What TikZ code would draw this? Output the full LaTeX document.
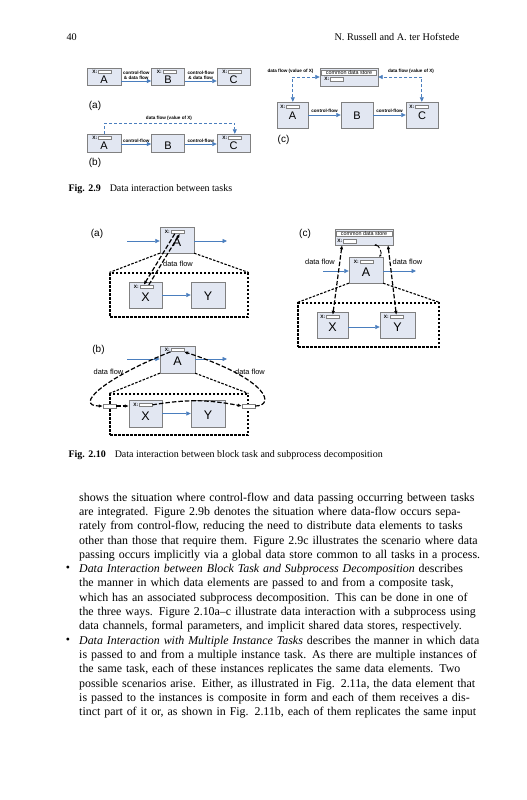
\documentclass[tikz,border=0pt]{standalone}
\usepackage{fontspec}
\setmainfont{Liberation Serif}
\newfontfamily\diagfont{Liberation Sans}
\usepackage{tikz}
\usetikzlibrary{calc,arrows.meta}

\definecolor{boxfill}{RGB}{226,231,242}
\definecolor{boxline}{RGB}{128,128,128}
\definecolor{flowblue}{RGB}{74,126,190}

\tikzset{
  tipb/.tip={Triangle[length=4.5pt,width=4pt]},
  tipc/.tip={Latex[length=4pt,width=3.5pt]},
  tips/.tip={Latex[length=2.5pt,width=2.5pt]},
  task/.style={draw=boxline,fill=boxfill,inner sep=0pt,text height=#1,text depth=0pt,
    font=\diagfont\fontsize{11}{11}\selectfont},
  task/.default=8pt,
  bigtask/.style={task=#1,font=\diagfont\fontsize{12.5}{12.5}\selectfont},
  bigtask/.default=9pt,
  slot/.style={draw=boxline,fill=white,inner sep=0pt,minimum width=13pt,minimum height=3.5pt,
    label={[xlab]left:X:}},
  xlab/.style={font=\diagfont\bfseries\fontsize{4.8}{5}\selectfont,inner sep=0.7pt},
  port/.style={draw=boxline,fill=white,inner sep=0pt,minimum width=13pt,minimum height=3.5pt},
  head/.style={draw=boxline,fill=white,inner sep=0pt,minimum height=5pt,
    font=\diagfont\fontsize{5.4}{5.4}\selectfont},
  flow/.style={flowblue,line width=0.7pt,-{tipb}},
  dflow/.style={flowblue,line width=0.7pt,dash pattern=on 3pt off 2pt},
  lbl/.style={text=black,font=\diagfont\bfseries\fontsize{4.6}{5.6}\selectfont,inner sep=0.5pt},
  dlbl/.style={font=\diagfont\fontsize{7.4}{8}\selectfont,inner sep=0pt},
  tag/.style={font=\diagfont\fontsize{10}{10}\selectfont,inner sep=0pt},
  frame/.style={draw=black,line width=1.1pt,dash pattern=on 2.5pt off 1.5pt},
  chan/.style={black,line width=1.2pt,dash pattern=on 4.5pt off 2pt}
}

\begin{document}
\begin{tikzpicture}[x=1pt,y=-1pt]
\fill[white] (0,0) rectangle (527,800);
\useasboundingbox (0,0) rectangle (527,800);

\node[anchor=west,font=\fontsize{10.2}{12}\selectfont] (pagenum) at (63,37) {40};
\node[anchor=east,font=\fontsize{10.2}{12}\selectfont] (runhead) at (463,37) {N. Russell and A. ter Hofstede};

\node[task=14pt,minimum width=34pt,minimum height=17pt] (A1) at (104,76.5) {A};
\node[task=14pt,minimum width=33pt,minimum height=17pt] (B1) at (168,76.5) {B};
\node[task=14pt,minimum width=33pt,minimum height=17pt] (C1) at (233.5,76.5) {C};
\node[slot] (A1x) at ([shift={(18pt,-4pt)}]A1.north west) {};
\node[slot] (B1x) at ([shift={(18pt,-4pt)}]B1.north west) {};
\node[slot] (C1x) at ([shift={(18pt,-4pt)}]C1.north west) {};
\draw[flow] ([yshift=-4.5pt]A1.east) -- node[lbl,above=0.5pt,align=center]{control-flow\\\& data flow} ([yshift=-4.5pt]B1.west);
\draw[flow] ([yshift=-4.5pt]B1.east) -- node[lbl,above=0.5pt,align=center]{control-flow\\\& data flow} ([yshift=-4.5pt]C1.west);
\node[tag] (taga1) at (95,106) {(a)};

\node[task=12pt,minimum width=34pt,minimum height=18pt] (A2) at (104,143) {A};
\node[task=12pt,minimum width=33pt,minimum height=18pt] (B2) at (168,143) {B};
\node[task=12pt,minimum width=33pt,minimum height=18pt] (C2) at (233.5,143) {C};
\node[slot] (A2x) at ([shift={(18pt,-4pt)}]A2.north west) {};
\node[slot] (C2x) at ([shift={(18pt,-4pt)}]C2.north west) {};
\coordinate (top2) at (0,123);
\draw[dflow,-{tipb}] (A2x |- A2.north) -- (A2x |- top2) -| (C2x |- C2.north);
\node[lbl] (df2) at (169,118) {data flow (value of X)};
\draw[flow] ([yshift=-1pt]A2.east) -- node[lbl,above=0.5pt]{control-flow} ([yshift=-1pt]B2.west);
\draw[flow] ([yshift=-1pt]B2.east) -- node[lbl,above=0.5pt]{control-flow} ([yshift=-1pt]C2.west);
\node[tag] (tagb1) at (95,163) {(b)};

\node[task,minimum width=58pt,minimum height=18pt] (S3) at (349,77) {};
\node[head,minimum width=55pt] (S3h) at ([yshift=-4.5pt]S3.north) {common data store};
\node[slot] (S3x) at ([shift={(17pt,7pt)}]S3.south west) {};
\node[task,minimum width=31pt,minimum height=26pt] (A3) at (292.5,115) {A};
\node[task,minimum width=32pt,minimum height=26pt] (B3) at (357,115) {B};
\node[task,minimum width=32pt,minimum height=26pt] (C3) at (422,115) {C};
\node[slot] (A3x) at ([shift={(16pt,-5pt)}]A3.north west) {};
\node[slot] (C3x) at ([shift={(16pt,-5pt)}]C3.north west) {};
\draw[dflow,{tipb}-{tipb}] (A3x |- A3.north) |- (S3.west);
\draw[dflow,{tipb}-{tipb}] (C3x |- C3.north) |- (S3.east);
\node[lbl] (df3l) at (290.5,71) {data flow (value of X)};
\node[lbl] (df3r) at (411,71) {data flow (value of X)};
\draw[flow] (A3) -- node[lbl,above=2pt]{control-flow} (B3);
\draw[flow] (B3) -- node[lbl,above=2pt]{control-flow} (C3);
\node[tag] (tagc1) at (283.5,140) {(c)};

\node[anchor=west,font=\fontsize{10}{12}\selectfont] (cap9) at (65,189) {\textbf{Fig. 2.9}\hspace{0.9em}Data interaction between tasks};

\node[tag] (taga2) at (97,234) {(a)};
\node[frame,minimum width=138pt,minimum height=44pt] (sub4) at (179,295) {};
\node[bigtask=13pt,minimum width=34pt,minimum height=26pt] (A4) at (177,240) {A};
\node[bigtask=13pt,minimum width=33pt,minimum height=26pt] (X4) at (145.5,295) {X};
\node[bigtask=11pt,minimum width=34pt,minimum height=26pt] (Y4) at (208,295) {Y};
\node[slot] (A4x) at ([shift={(17.5pt,-5pt)}]A4.north west) {};
\node[slot] (X4x) at ([shift={(17.5pt,-5pt)}]X4.north west) {};
\draw[frame] (A4.south west) -- (sub4.north west);
\draw[frame] (A4.south east) -- (sub4.north east);
\coordinate (in4) at (127,241);
\coordinate (out4) at (227,241);
\draw[flow] (in4) -- (in4 -| A4.west);
\draw[flow] (A4.east |- out4) -- (out4);
\draw[flow] (X4) -- (Y4);
\draw[chan,-{tipc}] ([xshift=-2.5pt]A4x.south) -- ([xshift=-2.5pt]X4x.north);
\draw[chan,-{tipc}] ([xshift=2.5pt]X4x.north) -- ([xshift=2.5pt]A4x.south);
\node[dlbl] (df4) at (178,264) {data flow};

\node[tag] (tagb2) at (98.5,350) {(b)};
\node[frame,minimum width=138pt,minimum height=41pt] (sub6) at (179,414.5) {};
\node[bigtask=11pt,minimum width=35pt,minimum height=27pt] (A6) at (177.5,359.5) {A};
\node[bigtask=13pt,minimum width=33pt,minimum height=27pt] (X6) at (145.5,413.5) {X};
\node[bigtask=11pt,minimum width=34pt,minimum height=27pt] (Y6) at (208,413.5) {Y};
\node[slot] (A6x) at ([shift={(17.5pt,-4pt)}]A6.north west) {};
\node[slot] (X6x) at ([shift={(17pt,-5pt)}]X6.north west) {};
\node[port] (Lp) at (109.5,406) {};
\node[port] (Rp) at (248.5,406) {};
\draw[frame] (A6.south west) -- (sub6.north west);
\draw[frame] (A6.south east) -- (sub6.north east);
\coordinate (in6) at (127,359);
\coordinate (out6) at (227,359);
\draw[flow] (in6) -- (in6 -| A6.west);
\draw[flow] (A6.east |- out6) -- (out6);
\draw[flow] (X6) -- (Y6);
\draw[chan,-{tipc}] (A6x.south west) .. controls (100,380) and (75,406) .. (Lp.west);
\draw[chan,-{tipc}] (Lp.east) -- (Lp.east -| X6.west);
\draw[chan,-{tipc}] (X6x.east) to[bend left=10] (Rp.west);
\draw[chan,-{tipc}] (Rp.east) .. controls (275,406) and (270,380) .. (A6x.south east);
\node[dlbl] (df6l) at (108.5,372) {data flow};
\node[dlbl] (df6r) at (250,372) {data flow};

\node[tag] (tagc2) at (305,234) {(c)};
\node[task,minimum width=58pt,minimum height=16pt] (S5) at (364,237) {};
\node[head,minimum width=56pt] (S5h) at ([yshift=-4.5pt]S5.north) {common data store};
\node[slot] (S5x) at ([shift={(15pt,4pt)}]S5.south west) {};
\node[frame,minimum width=141pt,minimum height=44pt] (sub5) at (368.5,325) {};
\node[bigtask=13pt,minimum width=34pt,minimum height=26pt] (A5) at (366,270) {A};
\node[bigtask=13pt,minimum width=31pt,minimum height=26pt] (X5) at (332.5,325) {X};
\node[bigtask=13pt,minimum width=35pt,minimum height=26pt] (Y5) at (397.5,325) {Y};
\node[slot] (A5x) at ([shift={(17.5pt,-5pt)}]A5.north west) {};
\node[slot] (X5x) at ([shift={(16pt,-5pt)}]X5.north west) {};
\node[slot] (Y5x) at ([shift={(16.5pt,-5pt)}]Y5.north west) {};
\draw[frame] (A5.south west) -- (sub5.north west);
\draw[frame] (A5.south east) -- (sub5.north east);
\coordinate (in5) at (323,271);
\coordinate (out5) at (416,271);
\draw[flow] (in5) -- (in5 -| A5.west);
\draw[flow] (A5.east |- out5) -- (out5);
\draw[flow] ([yshift=-2pt]X5.east) -- ([yshift=-2pt]Y5.west);
\draw[chan,{tipc}-{tipc}] ([xshift=-22pt]S5.south) -- (X5x.north);
\draw[chan,{tipc}-{tipc}] ([xshift=24pt]S5.south) -- (Y5x.north);
\draw[chan,line width=0.9pt,{tips}-{tips}] ([xshift=10pt]S5.south) to[bend left=70] ([xshift=13pt]A5.north);
\node[dlbl] (df5l) at (320,262) {data flow};
\node[dlbl] (df5r) at (407.5,262) {data flow};

\node[anchor=west,font=\fontsize{10}{12}\selectfont] (cap10) at (65,455) {\textbf{Fig. 2.10}\hspace{0.9em}Data interaction between block task and subprocess decomposition};

\node[anchor=north west,inner sep=0pt,text width=384pt,align=left,font=\fontsize{11.9}{14.3}\selectfont] (body) at (79,492.6) {%
\makebox[384pt][s]{shows the situation where control-flow and data passing occurring between tasks}\\
\makebox[384pt][s]{are integrated. Figure 2.9b denotes the situation where data-flow occurs sepa-}\\
\makebox[384pt][s]{rately from control-flow, reducing the need to distribute data elements to tasks}\\
\makebox[384pt][s]{other than those that require them. Figure 2.9c illustrates the scenario where data}\\
\makebox[384pt][s]{passing occurs implicitly via a global data store common to all tasks in a process.}\\
\makebox[384pt][s]{\emph{Data Interaction between Block Task and Subprocess Decomposition} describes}\\
\makebox[384pt][s]{the manner in which data elements are passed to and from a composite task,}\\
\makebox[384pt][s]{which has an associated subprocess decomposition. This can be done in one of}\\
\makebox[384pt][s]{the three ways. Figure 2.10a--c illustrate data interaction with a subprocess using}\\
data channels, formal parameters, and implicit shared data stores, respectively.\\
\makebox[384pt][s]{\emph{Data Interaction with Multiple Instance Tasks} describes the manner in which data}\\
\makebox[384pt][s]{is passed to and from a multiple instance task. As there are multiple instances of}\\
\makebox[384pt][s]{the same task, each of these instances replicates the same data elements. Two}\\
\makebox[384pt][s]{possible scenarios arise. Either, as illustrated in Fig. 2.11a, the data element that}\\
\makebox[384pt][s]{is passed to the instances is composite in form and each of them receives a dis-}\\
\makebox[384pt][s]{tinct part of it or, as shown in Fig. 2.11b, each of them replicates the same input}};
\node[font=\fontsize{11.9}{14.3}\selectfont] (bul1) at (68,569) {\textbullet};
\node[font=\fontsize{11.9}{14.3}\selectfont] (bul2) at (68,641) {\textbullet};
\end{tikzpicture}
\end{document}
